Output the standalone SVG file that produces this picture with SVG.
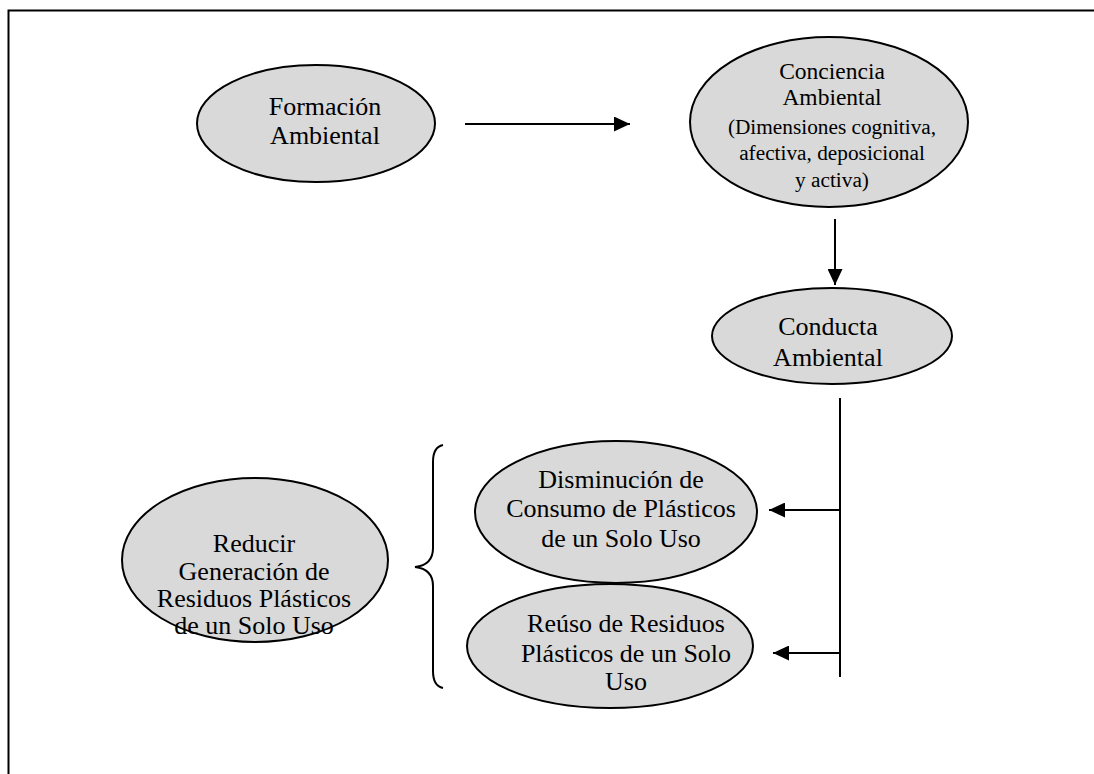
<svg xmlns="http://www.w3.org/2000/svg" width="1094" height="774" viewBox="0 0 1094 774">
<style>
.n ellipse{fill:#d9d9d9;stroke:#000;stroke-width:2}
.t{font-family:"Liberation Serif","Times New Roman",serif;font-size:26px;fill:#000;text-anchor:middle}
.s{font-size:21.3px}
.m{font-size:23.5px}
.c line,.c path{stroke:#000;stroke-width:2;fill:none}
</style>
<defs>
<marker id="ah" viewBox="0 0 16 15" refX="16" refY="7.5" markerWidth="16" markerHeight="15" markerUnits="userSpaceOnUse" orient="auto">
<path d="M0,0 L16,7.5 L0,15 Z" fill="#000"/>
</marker>
</defs>
<rect width="1094" height="774" fill="#fff"/>
<g id="frame">
<path d="M8.5,774 V10.5 H1094" fill="none" stroke="#000" stroke-width="2"/>
</g>
<g class="c" id="connectors">
<line x1="465" y1="124" x2="630" y2="124" marker-end="url(#ah)"/>
<line x1="835" y1="219" x2="835" y2="285" marker-end="url(#ah)"/>
<line x1="840" y1="398" x2="840" y2="677"/>
<line x1="840" y1="510" x2="769" y2="510" marker-end="url(#ah)"/>
<line x1="840" y1="653" x2="773" y2="653" marker-end="url(#ah)"/>
<path d="M443,445 Q433,447 433,462 V548 Q433,565 415,567 Q433,569 433,586 V671 Q433,686 443,688"/>
</g>
<g class="n" id="formacion">
<ellipse cx="316" cy="123.5" rx="119" ry="58.5"/>
<text class="t" x="325" y="115">Formación</text>
<text class="t" x="325" y="144">Ambiental</text>
</g>
<g class="n" id="conciencia">
<ellipse cx="829" cy="122" rx="139" ry="85"/>
<text class="t m" x="832" y="79">Conciencia</text>
<text class="t m" x="832" y="105">Ambiental</text>
<text class="t s" x="832" y="134">(Dimensiones cognitiva,</text>
<text class="t s" x="832" y="160">afectiva, deposicional</text>
<text class="t s" x="832" y="187">y activa)</text>
</g>
<g class="n" id="conducta">
<ellipse cx="832" cy="336" rx="120" ry="48"/>
<text class="t" x="828" y="335">Conducta</text>
<text class="t" x="828" y="366">Ambiental</text>
</g>
<g class="n" id="disminucion">
<ellipse cx="616" cy="512" rx="141" ry="71"/>
<text class="t" x="621" y="488">Disminución de</text>
<text class="t" x="621" y="517">Consumo de Plásticos</text>
<text class="t" x="621" y="547">de un Solo Uso</text>
</g>
<g class="n" id="reuso">
<ellipse cx="610" cy="646" rx="143" ry="62"/>
<text class="t" x="626" y="632">Reúso de Residuos</text>
<text class="t" x="626" y="662">Plásticos de un Solo</text>
<text class="t" x="626" y="690">Uso</text>
</g>
<g class="n" id="reducir">
<ellipse cx="255" cy="560" rx="133" ry="82"/>
<text class="t" x="254" y="552">Reducir</text>
<text class="t" x="254" y="580">Generación de</text>
<text class="t" x="254" y="607">Residuos Plásticos</text>
<text class="t" x="254" y="634">de un Solo Uso</text>
</g>
</svg>
